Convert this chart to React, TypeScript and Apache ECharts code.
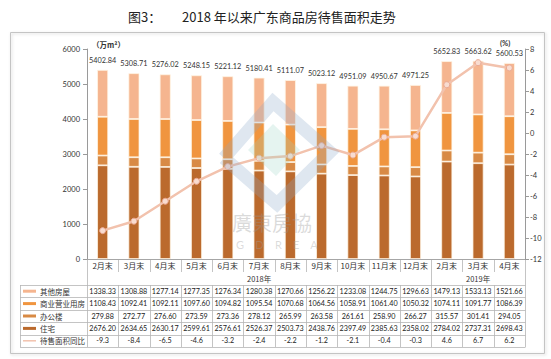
import React, { useEffect, useRef } from "react";
import * as echarts from "echarts";

const categories = ["2月末", "3月末", "4月末", "5月末", "6月末", "7月末", "8月末", "9月末", "10月末", "11月末", "12月末", "2月末", "3月末", "4月末"];
const yearGroups = [
  { label: "2018年", from: 0, to: 11 },
  { label: "2019年", from: 11, to: 14 },
];
const other = [1338.33, 1308.88, 1277.14, 1277.35, 1276.34, 1280.38, 1270.66, 1256.22, 1233.08, 1244.75, 1296.63, 1479.13, 1533.13, 1521.66];
const commercial = [1108.43, 1092.41, 1092.11, 1097.6, 1094.82, 1095.54, 1070.68, 1064.56, 1058.91, 1061.4, 1050.32, 1074.11, 1091.77, 1086.39];
const office = [279.88, 272.77, 276.6, 273.59, 273.36, 278.12, 265.99, 263.58, 261.61, 258.9, 266.27, 315.57, 301.41, 294.05];
const residential = [2676.2, 2634.65, 2630.17, 2599.61, 2576.61, 2526.37, 2503.73, 2438.76, 2397.49, 2385.63, 2358.02, 2784.02, 2737.31, 2698.43];
const totals = [5402.84, 5308.71, 5276.02, 5248.15, 5221.12, 5180.41, 5111.07, 5023.12, 4951.09, 4950.67, 4971.25, 5652.83, 5663.62, 5600.53];
const yoy = [-9.3, -8.4, -6.5, -4.6, -3.2, -2.4, -2.2, -1.2, -2.1, -0.4, -0.3, 4.6, 6.7, 6.2];

const seriesNames = ["其他房屋", "商业营业用房", "办公楼", "住宅", "待售面积同比"];
const colors = {
  other: "#f5b58f",
  commercial: "#f0953f",
  office: "#d88a45",
  residential: "#bb6a2d",
  line: "#f2c2ad",
};

const GRID_LEFT = 87;
const GRID_TOP = 49;
const GRID_W = 438;
const GRID_H = 210;
const TABLE_LEFT = 20;
const TABLE_TOP = 285;
const ROW_H = 12.4;
const NUM_FONT = "Lato, 'Liberation Sans', sans-serif";
const CJK_FONT = "'Noto Sans CJK SC', sans-serif";

export default function App() {
  const ref = useRef<HTMLDivElement>(null);
  useEffect(() => {
    const chart = echarts.init(ref.current!, null, { renderer: "svg" });
    const bar = (name: string, data: number[], color: string, extra: any = {}) => ({
      type: "bar",
      name,
      stack: "total",
      data,
      barWidth: 11,
      yAxisIndex: 0,
      itemStyle: { color, borderColor: "rgba(255,246,230,0.95)", borderWidth: 0.8 },
      ...extra,
    });
    chart.setOption({
      animation: false,
      backgroundColor: "#fff",
      grid: { left: GRID_LEFT, top: GRID_TOP, width: GRID_W, height: GRID_H },
      xAxis: {
        type: "category",
        data: categories,
        axisLine: { lineStyle: { color: "#a6a6a6" } },
        axisTick: { show: false },
        axisLabel: { interval: 0, margin: 2, fontSize: 8, color: "#333", fontFamily: CJK_FONT },
      },
      yAxis: [
        {
          type: "value",
          min: 0,
          max: 6000,
          interval: 1000,
          axisLine: { show: true, lineStyle: { color: "#9a9a9a" } },
          axisTick: { show: true, length: 4, lineStyle: { color: "#9a9a9a" } },
          axisLabel: { fontSize: 7.5, color: "#333", margin: 7, fontFamily: NUM_FONT, formatter: (v: number) => String(v) },
          splitLine: { show: false },
        },
        {
          type: "value",
          min: -12,
          max: 8,
          interval: 2,
          position: "right",
          axisLine: { show: true, lineStyle: { color: "#9a9a9a" } },
          axisTick: { show: true, length: 4, lineStyle: { color: "#9a9a9a" } },
          axisLabel: { fontSize: 7.5, color: "#333", margin: 5, fontFamily: NUM_FONT, formatter: (v: number) => String(v) },
          splitLine: { show: false },
        },
      ],
      series: [
        bar(seriesNames[3], residential, colors.residential),
        bar(seriesNames[2], office, colors.office),
        bar(seriesNames[1], commercial, colors.commercial),
        bar(seriesNames[0], other, colors.other, {
          label: {
            show: true,
            position: "top",
            distance: 6,
            fontSize: 7.3,
            color: "#333",
            fontFamily: NUM_FONT,
            formatter: (p: any) => totals[p.dataIndex].toFixed(2),
          },
        }),
        {
          type: "line",
          name: seriesNames[4],
          yAxisIndex: 1,
          data: yoy,
          symbol: "circle",
          symbolSize: 6,
          z: 5,
          lineStyle: { color: colors.line, width: 2.5 },
          itemStyle: { color: "#f8dcd0", borderColor: "#eaa993", borderWidth: 1 },
        },
      ],
    });

    const xs = categories.map((_, i) => chart.convertToPixel({ xAxisIndex: 0 }, i) as number);
    const step = xs.length > 1 ? xs[1] - xs[0] : GRID_W;
    const edge = (i: number) => (i < xs.length ? xs[i] - step / 2 : xs[xs.length - 1] + step / 2);
    const xRight = edge(xs.length);
    const tableBottom = TABLE_TOP + ROW_H * 5;
    const lineColor = "#b5b5b5";
    const L = (x1: number, y1: number, x2: number, y2: number) => ({
      type: "line",
      silent: true,
      shape: { x1, y1, x2, y2 },
      style: { stroke: lineColor, lineWidth: 0.8 },
    });
    const g: any[] = [];
    g.push({
      type: "rect",
      shape: { x: 10.5, y: 32.5, width: 534, height: 321 },
      style: { fill: "none", stroke: "#c4c4c4", lineWidth: 1, shadowBlur: 3, shadowColor: "rgba(0,0,0,0.18)", shadowOffsetX: 1, shadowOffsetY: 1 },
      silent: true,
    });
    g.push({ type: "text", x: 128, y: 16, style: { text: "图3：", fontSize: 13, fill: "#222", fontFamily: CJK_FONT, verticalAlign: "middle" } });
    g.push({ type: "text", x: 182, y: 16, style: { text: "2018 年以来广东商品房待售面积走势", fontSize: 13, fill: "#222", fontFamily: CJK_FONT, verticalAlign: "middle" } });
    g.push({ type: "text", x: 92, y: 44, style: { text: "（万m²）", fontSize: 7.5, fontWeight: "bold", fill: "#333", fontFamily: CJK_FONT, verticalAlign: "middle" } });
    g.push({ type: "text", x: 500, y: 43, style: { text: "(%)", fontSize: 7.5, fontWeight: "bold", fill: "#333", fontFamily: NUM_FONT, verticalAlign: "middle" } });
    g.push({
      type: "polyline",
      silent: true,
      z: 20,
      shape: { points: [[224, 158], [273, 102], [330, 152], [277, 204], [224, 158]] },
      style: { stroke: "rgba(140,170,200,0.28)", lineWidth: 13, fill: "none", lineJoin: "miter" },
    });
    g.push({
      type: "polygon",
      silent: true,
      z: 20,
      shape: { points: [[248, 150], [273, 124], [300, 150], [276, 176]] },
      style: { fill: "rgba(150,210,195,0.25)" },
    });
    g.push({ type: "text", z: 20, silent: true, x: 232, y: 222, style: { text: "廣東房協", fontSize: 20, fill: "rgba(150,150,150,0.35)", fontFamily: "'Noto Sans CJK TC', sans-serif", verticalAlign: "middle" } });
    g.push({ type: "text", z: 20, silent: true, x: 236, y: 244, style: { text: "G    D    R    E    A", fontSize: 11, fill: "rgba(160,160,160,0.38)", fontFamily: NUM_FONT, verticalAlign: "middle" } });

    for (let i = 1; i < xs.length; i++) {
      const isYear = yearGroups.some((yg) => yg.from === i);
      const x = Math.round(edge(i)) + 0.5;
      g.push(L(x, GRID_TOP + GRID_H, x, isYear ? tableBottom : GRID_TOP + GRID_H + 13));
      if (!isYear) g.push(L(x, TABLE_TOP, x, tableBottom));
    }
    const x0 = GRID_LEFT + 0.5;
    g.push(L(x0, GRID_TOP + GRID_H, x0, tableBottom));
    const xr = Math.round(xRight) + 0.5;
    g.push(L(xr, GRID_TOP + GRID_H, xr, tableBottom));
    g.push(L(TABLE_LEFT + 0.5, TABLE_TOP, TABLE_LEFT + 0.5, tableBottom));
    for (let r = 0; r <= 5; r++) {
      const y = Math.round(TABLE_TOP + r * ROW_H) + 0.5;
      g.push(L(TABLE_LEFT, y, xr, y));
    }
    yearGroups.forEach((yg) => {
      const cx = (edge(yg.from) + edge(yg.to)) / 2;
      g.push({ type: "text", x: cx, y: 278, style: { text: yg.label, fontSize: 7.5, fill: "#333", fontFamily: CJK_FONT, align: "center", verticalAlign: "middle" } });
    });
    const rows = [
      { name: seriesNames[0], data: other, color: colors.other, fmt: (v: number) => v.toFixed(2), thick: 3 },
      { name: seriesNames[1], data: commercial, color: colors.commercial, fmt: (v: number) => v.toFixed(2), thick: 3 },
      { name: seriesNames[2], data: office, color: colors.office, fmt: (v: number) => v.toFixed(2), thick: 3 },
      { name: seriesNames[3], data: residential, color: colors.residential, fmt: (v: number) => v.toFixed(2), thick: 3 },
      { name: seriesNames[4], data: yoy, color: colors.line, fmt: (v: number) => v.toFixed(1), thick: 1.5 },
    ];
    rows.forEach((row, r) => {
      const cy = TABLE_TOP + r * ROW_H + ROW_H / 2;
      g.push({ type: "rect", silent: true, shape: { x: 23, y: cy - row.thick / 2, width: 13, height: row.thick }, style: { fill: row.color } });
      g.push({ type: "text", x: 40, y: cy, style: { text: row.name, fontSize: 7.5, fill: "#333", fontFamily: CJK_FONT, verticalAlign: "middle" } });
      row.data.forEach((v, i) => {
        g.push({ type: "text", x: xs[i], y: cy, style: { text: row.fmt(v), fontSize: 7.2, fill: "#222", fontFamily: NUM_FONT, align: "center", verticalAlign: "middle" } });
      });
    });
    chart.setOption({ graphic: g });
    return () => chart.dispose();
  }, []);
  return <div ref={ref} style={{ position: "fixed", left: 0, top: 0, width: 551, height: 359 }} />;
}
